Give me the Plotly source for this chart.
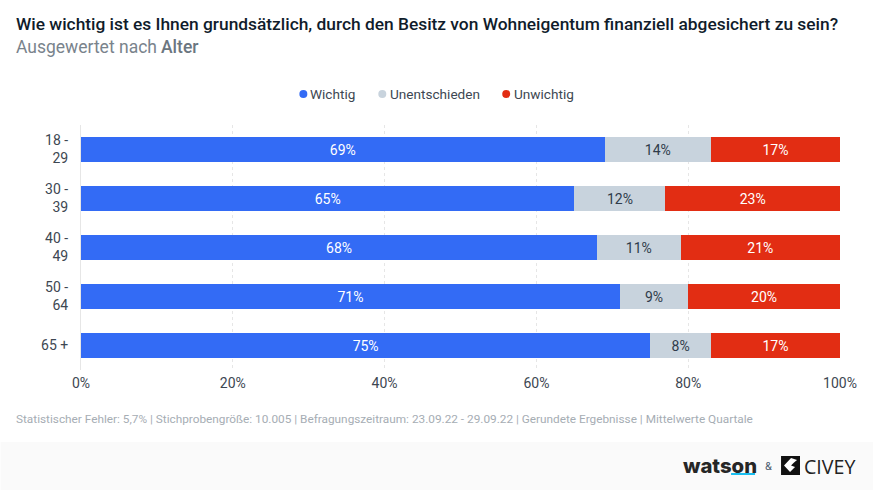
import plotly.graph_objects as go

W, H = 873, 490
L, R, T, B = 80.5, 840, 125, 370

categories = ["18 -<br>29", "30 -<br>39", "40 -<br>49", "50 -<br>64", "65 +"]
wichtig = [69, 65, 68, 71, 75]
unentschieden = [14, 12, 11, 9, 8]
unwichtig = [17, 23, 21, 20, 17]
series_names = ["Wichtig", "Unentschieden", "Unwichtig"]
colors = ["#336BF5", "#C8D3DD", "#E22D13"]
label_colors = ["#ffffff", "#2f3b4a", "#ffffff"]
x_ticks = [0, 20, 40, 60, 80, 100]

title = "Wie wichtig ist es Ihnen grundsätzlich, durch den Besitz von Wohneigentum finanziell abgesichert zu sein?"
footnote = ("Statistischer Fehler: 5,7% | Stichprobengröße: 10.005 | Befragungszeitraum: 23.09.22 - 29.09.22 | "
            "Gerundete Ergebnisse | Mittelwerte Quartale")

FONT = "Roboto"


def fx(p):
    return (p - L) / (R - L)


def fy(p):
    return (B - p) / (B - T)


fig = go.Figure()
for name, vals, col, lc in zip(series_names, [wichtig, unentschieden, unwichtig], colors, label_colors):
    fig.add_trace(go.Bar(
        y=categories, x=vals, orientation="h", name=name, showlegend=False,
        marker=dict(color=col, line=dict(width=0)),
        text=[f"{v}%" for v in vals], textposition="inside", insidetextanchor="middle",
        textangle=0, constraintext="none",
        textfont=dict(family=FONT, size=14, color=lc),
    ))

anns = []


def text(px, py, s, size, color, anchor="left", weight=None, family=FONT):
    font = dict(family=family, size=size, color=color)
    if weight:
        font["weight"] = weight
    anns.append(dict(xref="paper", yref="paper", x=fx(px), y=fy(py), text=s, showarrow=False,
                     xanchor=anchor, yanchor="middle", align=anchor, font=font, borderpad=0))


text(14, 24.5, title, 17.35, "#101c2b", weight=500)
text(14, 47, "Ausgewertet nach", 17.5, "#79838c")
text(160, 47, "Alter", 17.5, "#6b7680", weight=500)
text(14, 418.5, footnote, 11.8, "#a6adb4")

legend_x = [(303, 309, "Wichtig"), (382, 389, "Unentschieden"), (506, 513, "Unwichtig")]
shapes = []
for (cx, tx, name), col in zip(legend_x, colors):
    shapes.append(dict(type="circle", xref="paper", yref="paper", x0=fx(cx - 4), x1=fx(cx + 4),
                       y0=fy(94 + 4), y1=fy(94 - 4), fillcolor=col, line=dict(width=0)))
    text(tx, 93.5, name, 13.6, "#3d4752")

# footer band
shapes.append(dict(type="rect", xref="paper", yref="paper", x0=fx(0), x1=fx(W), y0=fy(H), y1=fy(442),
                   fillcolor="#fafafa", line=dict(width=0), layer="below"))
# watson underline
shapes.append(dict(type="rect", xref="paper", yref="paper", x0=fx(731), x1=fx(755), y0=fy(475), y1=fy(473),
                   fillcolor="#19BEF0", line=dict(width=0)))
# civey icon
shapes.append(dict(type="rect", xref="paper", yref="paper", x0=fx(781), x1=fx(800), y0=fy(475), y1=fy(456),
                   fillcolor="#111111", line=dict(width=0)))
shapes.append(dict(type="path", xref="paper", yref="paper",
                   path=(f"M {fx(797)} {fy(460)} L {fx(791)} {fy(458)} L {fx(784)} {fy(465.5)} "
                         f"L {fx(790)} {fy(472)} L {fx(795)} {fy(467)} L {fx(791)} {fy(465.5)} "
                         f"L {fx(794)} {fy(462.5)} Z"),
                   fillcolor="#ffffff", line=dict(width=0)))

text(682, 465, "watson", 20.3, "#262626", family="Inter", weight=800)
text(763.5, 466, "&amp;", 11, "#4a5a6e")
text(802.5, 466, "CIVEY", 19.6, "#222222", family="Open Sans")

fig.update_layout(
    width=W, height=H, autosize=False,
    barmode="stack", bargap=0.49,
    margin=dict(l=L, r=W - R, t=T, b=H - B, pad=0),
    paper_bgcolor="#ffffff", plot_bgcolor="#ffffff",
    font=dict(family=FONT, size=14, color="#3d4752"),
    showlegend=False,
    annotations=anns, shapes=shapes,
    xaxis=dict(range=[0, 100], tickvals=x_ticks, ticktext=[f"{v}%" for v in x_ticks],
               showgrid=True, gridcolor="#e6e6e6", griddash="dot", gridwidth=1,
               zeroline=False, showline=False, ticks="", ticklabelstandoff=3,
               tickfont=dict(family=FONT, size=14, color="#3d4752"), fixedrange=True),
    yaxis=dict(autorange="reversed", showgrid=False, zeroline=False, showline=True,
               linecolor="#e6e6e6", linewidth=1, ticks="", ticklabelstandoff=9,
               tickfont=dict(family=FONT, size=14, color="#3d4752"), fixedrange=True),
)
fig.write_html("out.html", config=dict(displayModeBar=False),
               post_script="document.body.style.margin='0';document.body.style.overflow='hidden';")
